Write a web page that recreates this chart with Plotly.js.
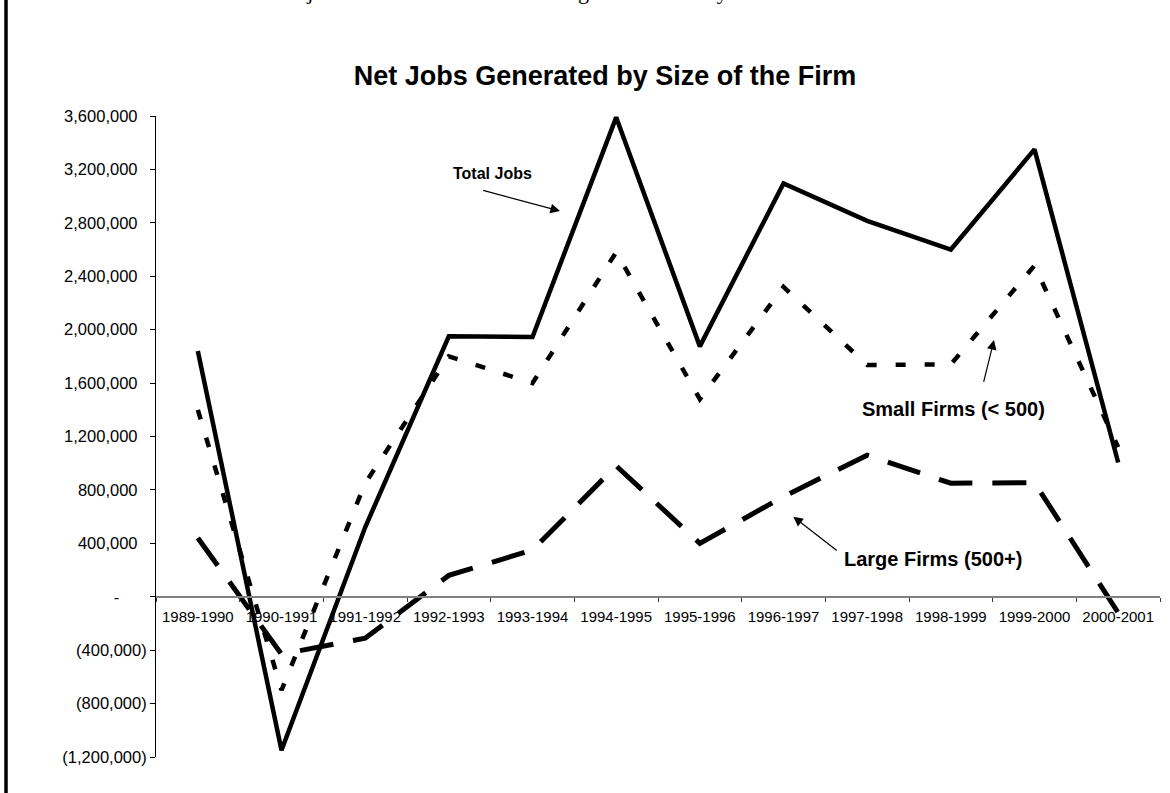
<!DOCTYPE html>
<html>
<head>
<meta charset="utf-8">
<script src="https://cdn.plot.ly/plotly-3.0.1.min.js"></script>
<style>
  html, body { margin: 0; padding: 0; background: #fff; }
  #chart { width: 1170px; height: 793px; }
</style>
</head>
<body>
<div id="chart"></div>
<script>
const categories = ['1989-1990','1990-1991','1991-1992','1992-1993','1993-1994','1994-1995','1995-1996','1996-1997','1997-1998','1998-1999','1999-2000','2000-2001'];
const totalJobs  = [1840000, -1150000, 520000, 1950000, 1945000, 3590000, 1875000, 3095000, 2815000, 2600000, 3350000, 1005000];
const smallFirms = [1400000, -700000, 850000, 1800000, 1600000, 2580000, 1480000, 2320000, 1735000, 1740000, 2480000, 1120000];
const largeFirms = [440000, -430000, -310000, 160000, 350000, 980000, 400000, 750000, 1060000, 850000, 855000, -120000];
const yTickVals  = [3600000, 3200000, 2800000, 2400000, 2000000, 1600000, 1200000, 800000, 400000, 0, -400000, -800000, -1200000];
const yTickText  = ['3,600,000','3,200,000','2,800,000','2,400,000','2,000,000','1,600,000','1,200,000','800,000','400,000','-','(400,000)','(800,000)','(1,200,000)'];

const NB = '\u00A0';
const yTickLabels = yTickText.map(t => t === '-' ? t + NB.repeat(6) : (t.startsWith('(') ? t : t + NB + NB));
const boundaries = categories.map((c, i) => i - 0.5).concat([categories.length - 0.5]);

const W = 1170, H = 793;
const L = 156, R = 10, T = 116, B = 36;
const pw = W - L - R, ph = H - T - B;
const px = p => (p - L) / pw;
const py = p => (H - B - p) / ph;
const zeroPos = py(596.7);

const FONT = 'Liberation Sans, Arial, Helvetica, sans-serif';

const traces = [
  { x: categories, y: totalJobs, name: 'Total Jobs', type: 'scatter', mode: 'lines',
    line: { color: '#000', width: 4.5 } },
  { x: categories, y: smallFirms, name: 'Small Firms (< 500)', type: 'scatter', mode: 'lines',
    line: { color: '#000', width: 4.5, dash: '10px,19px' } },
  { x: categories, y: largeFirms, name: 'Large Firms (500+)', type: 'scatter', mode: 'lines',
    line: { color: '#000', width: 5, dash: '34px,20px' } }
];

const layout = {
  width: W, height: H,
  margin: { l: L, r: R, t: T, b: B, pad: 0 },
  paper_bgcolor: '#fff', plot_bgcolor: '#fff',
  showlegend: false,
  font: { family: FONT, color: '#000' },
  title: {
    text: 'Net Jobs Generated by Size of the Firm',
    font: { family: FONT, size: 27, color: '#000', weight: 700 },
    xref: 'container', yref: 'container',
    x: 605 / W, xanchor: 'center', y: 1 - 76 / H, yanchor: 'middle'
  },
  xaxis: {
    type: 'category', range: [-0.5, 11.5], fixedrange: true,
    tickson: 'boundaries', ticks: 'outside', ticklen: 4, tickwidth: 1, tickcolor: '#333',
    showline: true, linecolor: '#808080', linewidth: 2,
    showgrid: false, zeroline: false,
    anchor: 'free', position: zeroPos,
    ticklabelstandoff: 6,
    tickfont: { family: FONT, size: 15, color: '#000' }
  },
  xaxis2: {
    type: 'linear', overlaying: 'x', range: [-0.5, 11.5], fixedrange: true,
    tickmode: 'array', tickvals: boundaries, ticks: 'inside', ticklen: 4, tickwidth: 1, tickcolor: '#333',
    showticklabels: false, showline: false, showgrid: false, zeroline: false,
    anchor: 'free', position: zeroPos
  },
  yaxis: {
    range: [-1200000, 3600000], fixedrange: true,
    tickmode: 'array', tickvals: yTickVals, ticktext: yTickLabels,
    ticks: 'outside', ticklen: 5, tickwidth: 1, tickcolor: '#000',
    showline: true, linecolor: '#000', linewidth: 1,
    showgrid: false, zeroline: false,
    tickfont: { family: FONT, size: 16.5, color: '#000' }
  },
  shapes: [
    { type: 'line', xref: 'paper', yref: 'paper', x0: px(6), x1: px(6), y0: py(800), y1: py(-5),
      line: { color: '#000', width: 3.5 } }
  ],
  annotations: [
    { text: 'Net jobs added 1989 to 2001 among firms sorted by size', xref: 'paper', yref: 'paper',
      x: px(267.6), xanchor: 'left', y: py(6), yanchor: 'bottom', showarrow: false,
      font: { family: 'Liberation Serif, Times New Roman, serif', size: 22, color: '#000' } },
    { text: 'Total Jobs', xref: 'paper', yref: 'paper', x: px(492), y: py(173),
      xanchor: 'center', yanchor: 'middle', showarrow: false,
      font: { family: FONT, size: 16, color: '#000', weight: 700 } },
    { text: 'Small Firms (&lt; 500)', xref: 'paper', yref: 'paper', x: px(953), y: py(408.5),
      xanchor: 'center', yanchor: 'middle', showarrow: false,
      font: { family: FONT, size: 20, color: '#000', weight: 700 } },
    { text: 'Large Firms (500+)', xref: 'paper', yref: 'paper', x: px(933), y: py(558.5),
      xanchor: 'center', yanchor: 'middle', showarrow: false,
      font: { family: FONT, size: 20, color: '#000', weight: 700 } },
    { text: '', xref: 'paper', yref: 'paper', x: px(560), y: py(211), ax: -78.3, ay: -21,
      showarrow: true, arrowhead: 2, arrowsize: 1.6, arrowwidth: 1.2, arrowcolor: '#000', standoff: 0 },
    { text: '', xref: 'paper', yref: 'paper', x: px(994), y: py(340), ax: -10.7, ay: 43.3,
      showarrow: true, arrowhead: 2, arrowsize: 1.6, arrowwidth: 1.2, arrowcolor: '#000', standoff: 0 },
    { text: '', xref: 'paper', yref: 'paper', x: px(793.3), y: py(516.7), ax: 45, ay: 35,
      showarrow: true, arrowhead: 2, arrowsize: 1.6, arrowwidth: 1.2, arrowcolor: '#000', standoff: 0 }
  ]
};

Plotly.newPlot('chart', traces, layout, { displayModeBar: false, staticPlot: true });
</script>
</body>
</html>
